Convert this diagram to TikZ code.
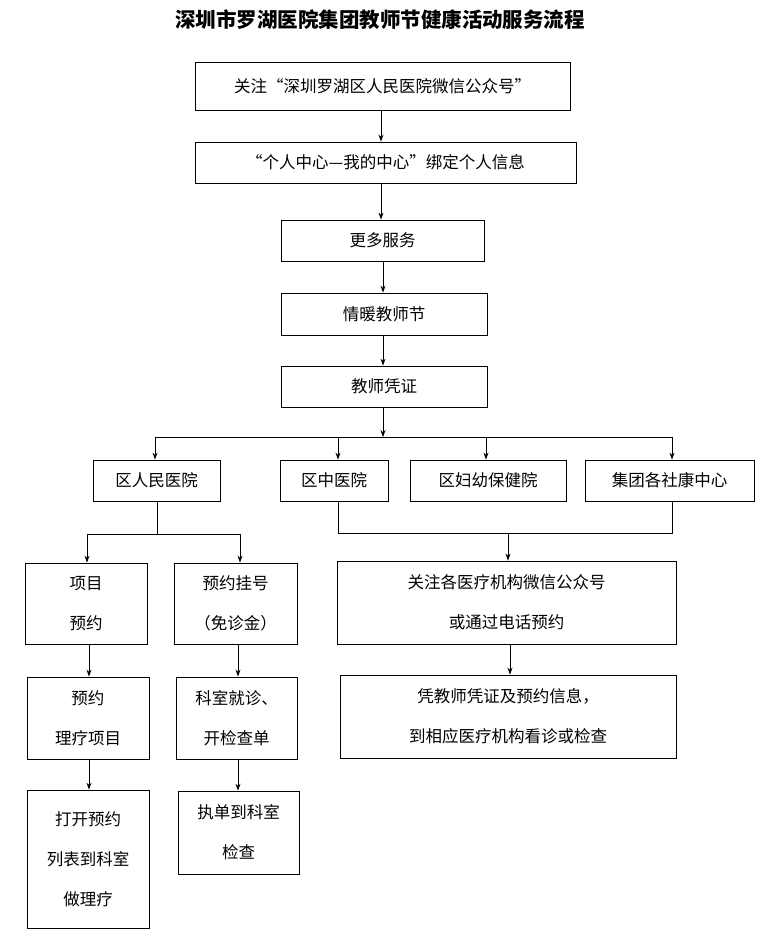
\documentclass[tikz,border=0pt]{standalone}
\usepackage{fontspec}
\setmainfont{Noto Sans CJK SC}
\usetikzlibrary{arrows.meta}
\begin{document}
\begin{tikzpicture}[x=1pt,y=-1pt,
  bx/.style={draw,line width=0.8pt,inner sep=0pt,font=\fontsize{16.5}{40}\selectfont,align=center},
  ar/.style={line width=0.8pt,-{Stealth[length=7pt,width=5pt]}},
  ln/.style={line width=0.8pt}]
\useasboundingbox (0,0) rectangle (769,943);
\node[font=\bfseries\fontsize{20.5}{24}\selectfont] (t) at (380,20) {深圳市罗湖医院集团教师节健康活动服务流程};
\newcommand\bx[6]{\node[bx,minimum width=#4-#2,minimum height=#5-#3] (#1) at ({(#2+#4)/2},{(#3+#5)/2}) {#6};}
\bx{b1}{195}{62}{570}{110}{关注“深圳罗湖区人民医院微信公众号”}
\bx{b2}{195}{142}{576}{183}{“个人中心—我的中心”绑定个人信息}
\bx{b3}{281}{220}{484}{261}{更多服务}
\bx{b4}{281}{293}{487}{335}{情暖教师节}
\bx{b5}{281}{366}{487}{407}{教师凭证}
\bx{h1}{93}{460}{220}{501}{区人民医院}
\bx{h2}{280}{460}{388}{501}{区中医院}
\bx{h3}{410}{460}{566}{501}{区妇幼保健院}
\bx{h4}{585}{460}{754}{501}{集团各社康中心}
\bx{l1}{25}{563}{147}{644}{项目\\预约}
\bx{l2}{27}{677}{149}{759}{预约\\理疗项目}
\bx{l3}{27}{790}{149}{928}{打开预约\\列表到科室\\做理疗}
\bx{m1}{174}{563}{297}{644}{预约挂号\\（免诊金）}
\bx{m2}{176}{677}{297}{759}{科室就诊、\\开检查单}
\bx{m3}{178}{791}{299}{874}{执单到科室\\检查}
\bx{r1}{337}{561}{676}{644}{关注各医疗机构微信公众号\\或通过电话预约}
\bx{r2}{340}{675}{676}{758}{凭教师凭证及预约信息，\\到相应医疗机构看诊或检查}
\draw[ar] (b1.south -| 381,0) -- (b2.north -| 381,0);
\draw[ar] (b2.south -| 381,0) -- (b3.north -| 381,0);
\draw[ar] (b3.south -| 383,0) -- (b4.north -| 383,0);
\draw[ar] (b4.south -| 383,0) -- (b5.north -| 383,0);
\draw[ar] (b5.south -| 383,0) -- (383,437);
\draw[ln] (155,437) -- (672,437);
\draw[ar] (155,437) -- (h1.north -| 155,0);
\draw[ar] (338,437) -- (h2.north -| 338,0);
\draw[ar] (486,437) -- (h3.north -| 486,0);
\draw[ar] (672,437) -- (h4.north -| 672,0);
\draw[ln] (h1.south -| 157,0) -- (157,534);
\draw[ln] (87,534) -- (240,534);
\draw[ar] (87,534) -- (l1.north -| 87,0);
\draw[ar] (240,534) -- (m1.north -| 240,0);
\draw[ln] (h2.south -| 338,0) -- (338,533) -- (672,533) -- (h4.south -| 672,0);
\draw[ar] (508,533) -- (r1.north -| 508,0);
\draw[ar] (r1.south -| 510,0) -- (r2.north -| 510,0);
\draw[ar] (l1.south -| 89,0) -- (l2.north -| 89,0);
\draw[ar] (l2.south -| 89,0) -- (l3.north -| 89,0);
\draw[ar] (m1.south -| 238,0) -- (m2.north -| 238,0);
\draw[ar] (m2.south -| 238,0) -- (m3.north -| 238,0);
\end{tikzpicture}
\end{document}
